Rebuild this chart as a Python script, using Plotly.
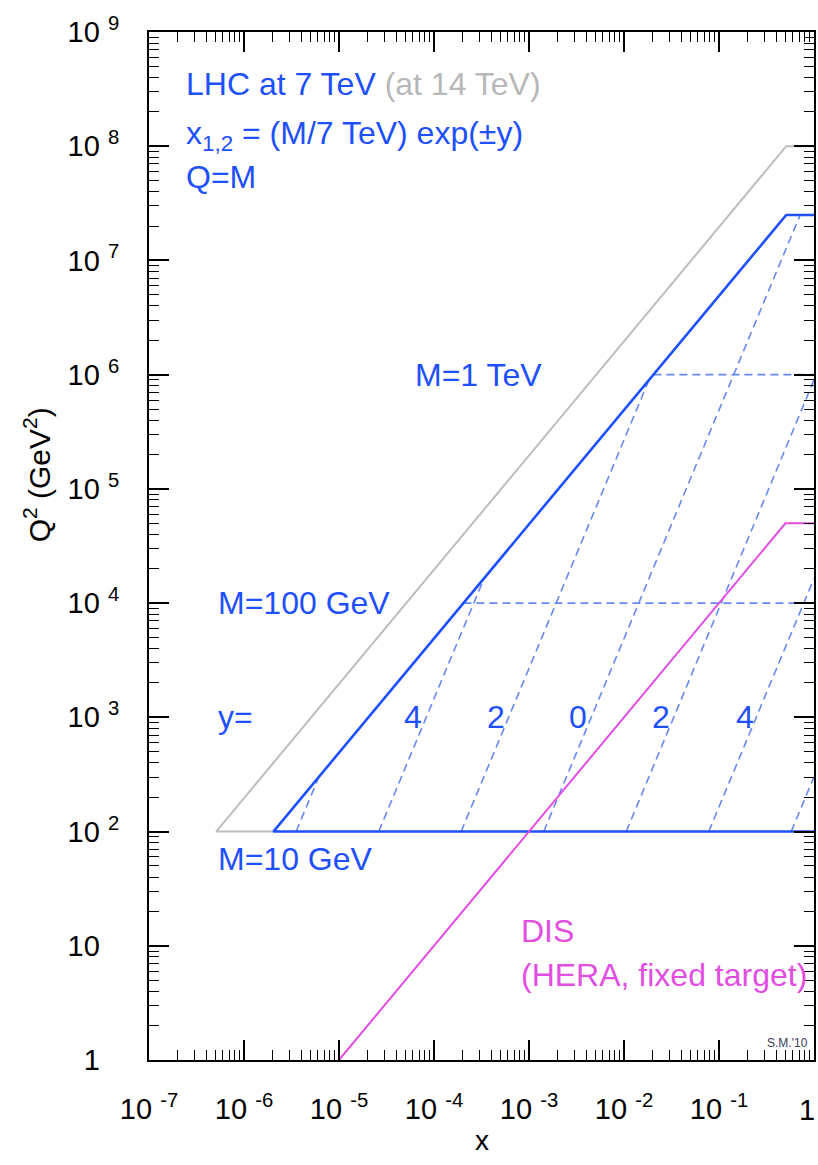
import math
import plotly.graph_objects as go

# ---------------- data ----------------
# LHC 7 TeV kinematic boundary (blue solid)
lhc7_x = [1.0, 2.04e-6, 0.51, 1.0]
lhc7_q2 = [1e2, 1e2, 2.5e7, 2.5e7]
# LHC 14 TeV boundary (grey)
lhc14_x = [2.04e-6, 5.1e-7, 0.51, 1.0]
lhc14_q2 = [1e2, 1e2, 1e8, 1e8]
# DIS (HERA, fixed target) boundary (magenta)
dis_x = [1e-5, 0.5, 1.0]
dis_q2 = [1.0, 5e4, 5e4]
# constant-rapidity lines (dashed): start / end points
rap_y = [-6, -4, -2, 0, 2, 4, 6]
rap_x0 = [3.54e-6, 2.62e-5, 1.93e-4, 1.43e-3, 1.056e-2, 7.8e-2, 0.576]
rap_q2_0 = [1e2, 1e2, 1e2, 1e2, 1e2, 1e2, 1e2]
rap_x1 = [6.14e-6, 3.36e-4, 1.83e-2, 0.714, 1.0, 1.0, 1.0]
rap_q2_1 = [301, 1.64e4, 8.98e5, 2.5e7, 8.98e5, 1.64e4, 301]
# constant-mass lines (dashed)
mass_q2 = [1e4, 1e6]
mass_x0 = [2.04e-4, 2.04e-2]
mass_x1 = [1.0, 1.0]
# rapidity labels
rap_lab_text = ["4", "2", "0", "2", "4"]
rap_lab_x = [6.0e-5, 4.5e-4, 3.3e-3, 2.45e-2, 0.188]
rap_lab_q2 = [1e3, 1e3, 1e3, 1e3, 1e3]

# axis ticks
x_tickvals = [1e-7, 1e-6, 1e-5, 1e-4, 1e-3, 1e-2, 1e-1, 1]
x_ticktext = ["10\u00a0<sup>-7</sup>", "10\u00a0<sup>-6</sup>", "10\u00a0<sup>-5</sup>",
              "10\u00a0<sup>-4</sup>", "10\u00a0<sup>-3</sup>", "10\u00a0<sup>-2</sup>",
              "10\u00a0<sup>-1</sup>", ""]
x_last_label = "1"   # drawn right-aligned at the axis end so it stays inside the page
y_tickvals = [1, 10, 1e2, 1e3, 1e4, 1e5, 1e6, 1e7, 1e8, 1e9]
y_ticktext = ["1\u00a0<sup>\u2007</sup>", "10\u00a0<sup>\u2007</sup>"] + \
             ["10\u00a0<sup>%d</sup>" % k for k in range(2, 10)]
x_minor = [m * 10.0 ** e for e in range(-7, 0) for m in range(2, 10)]
y_minor = [m * 10.0 ** e for e in range(0, 9) for m in range(2, 10)]

BLUE = "#1e50ff"
BLUE_D = "#6a88f2"
GREY = "#bdbdbd"
MAG = "#e24ee2"
FONT = "Liberation Sans, Arial, Helvetica, sans-serif"

fig = go.Figure()
fig.add_trace(go.Scatter(x=lhc14_x, y=lhc14_q2, mode="lines",
                         line=dict(color=GREY, width=2), hoverinfo="skip"))
for i in range(len(rap_y)):
    fig.add_trace(go.Scatter(x=[rap_x0[i], rap_x1[i]], y=[rap_q2_0[i], rap_q2_1[i]],
                             mode="lines", line=dict(color=BLUE_D, width=1.6, dash="8px,5px"),
                             hoverinfo="skip"))
for i in range(len(mass_q2)):
    fig.add_trace(go.Scatter(x=[mass_x0[i], mass_x1[i]], y=[mass_q2[i], mass_q2[i]],
                             mode="lines", line=dict(color=BLUE_D, width=1.6, dash="8px,5px"),
                             hoverinfo="skip"))
fig.add_trace(go.Scatter(x=lhc7_x, y=lhc7_q2, mode="lines",
                         line=dict(color=BLUE, width=2.6), hoverinfo="skip"))
fig.add_trace(go.Scatter(x=dis_x, y=dis_q2, mode="lines",
                         line=dict(color=MAG, width=2), hoverinfo="skip"))

ann = []
def txt(x, y, s, color, size=32, xanchor="left", xref="x", yref="y", **kw):
    d = dict(x=x, y=y, text=s, showarrow=False, xanchor=xanchor, yanchor="middle",
             xref=xref, yref=yref, font=dict(family=FONT, size=size, color=color))
    d.update(kw)
    ann.append(d)

# axes are log: annotation coordinates in log10 units
L = math.log10
txt(L(2.35e-7), L(3.5e8), "LHC at 7 TeV <span style='color:#b8b8b8'>(at 14 TeV)</span>", BLUE)
txt(L(2.35e-7), L(1.25e8), "x<sub>1,2</sub> = (M/7 TeV) exp(\u00b1y)", BLUE)
txt(L(2.35e-7), L(5.4e7), "Q=M", BLUE)
txt(L(6.0e-5), L(1e6), "M=1 TeV", BLUE)
txt(L(5.1e-7), L(1e4), "M=100 GeV", BLUE)
txt(L(5.1e-7), L(1e3), "y=", BLUE)
txt(L(5.1e-7), L(58), "M=10 GeV", BLUE)
for s, xx, yy in zip(rap_lab_text, rap_lab_x, rap_lab_q2):
    txt(L(xx), L(yy), s, BLUE, xanchor="center")
txt(L(7.9e-4), L(13.5), "DIS", MAG)
txt(L(7.9e-4), L(5.6), "(HERA, fixed target)", MAG)
txt(1.0, L(1.42), "S.M.'10", "#3a3a5a", size=12, xanchor="right", xref="paper", xshift=-4)
# last x tick label
txt(L(x_tickvals[-1]), -0.0485, x_last_label, "black", size=29, xanchor="right",
    yref="paper", xshift=3)
# axis titles
txt(-0.168, 0.569, "Q<sup>2</sup> (GeV<sup>2</sup>)", "black", size=30, xanchor="center",
    xref="paper", yref="paper", textangle=-90)
txt(0.5, -0.078, "x", "black", size=28, xanchor="center", xref="paper", yref="paper")

axis_common = dict(type="log", showgrid=False, zeroline=False, showline=True,
                   linecolor="black", linewidth=2, mirror="allticks", automargin=False,
                   ticks="inside", ticklen=20, tickwidth=1.6, tickcolor="black",
                   tickfont=dict(family=FONT, size=29, color="black"))
fig.update_layout(
    width=818, height=1165,
    margin=dict(l=149, r=4, t=32, b=105),
    plot_bgcolor="white", paper_bgcolor="white",
    showlegend=False,
    annotations=ann,
    xaxis=dict(range=[-7, 0], tickmode="array", tickvals=x_tickvals, ticktext=x_ticktext,
               ticklabelstandoff=22,
               minor=dict(tickmode="array", tickvals=x_minor, ticks="inside", ticklen=10,
                          tickwidth=1.4, tickcolor="black"),
               **axis_common),
    yaxis=dict(range=[0, 9], tickmode="array", tickvals=y_tickvals, ticktext=y_ticktext,
               ticklabelstandoff=22,
               minor=dict(tickmode="array", tickvals=y_minor, ticks="inside", ticklen=10,
                          tickwidth=1.4, tickcolor="black"),
               **axis_common),
)
fig.write_html("out.html", config={"displayModeBar": False},
               post_script="document.body.style.margin='0';document.body.style.overflow='hidden';")
